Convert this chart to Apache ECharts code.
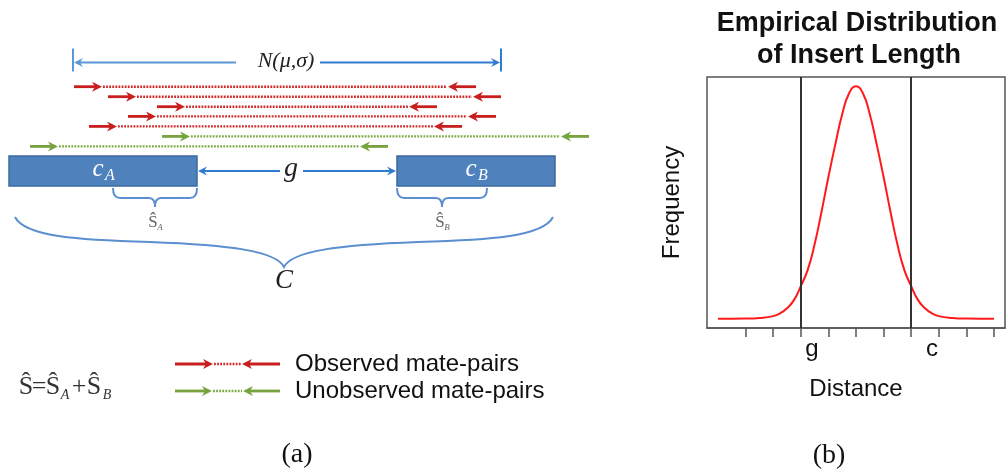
<!DOCTYPE html>
<html><head><meta charset="utf-8">
<script src="https://cdn.jsdelivr.net/npm/echarts@6/dist/echarts.min.js"></script>
<style>html,body{margin:0;padding:0;background:#fff}#c{width:1006px;height:474px}</style>
</head><body><div id="c"></div>
<script>
// ---------- Panel (a): schematic (diagram coordinates along the scaffold) ----------
const observedPairs   = [[74, 476, 86.7], [108, 501, 96.7], [157, 437, 106.7], [128, 496, 116.4], [89, 462, 126.4]];
const unobservedPairs = [[162, 589, 136.4], [30, 388, 146.4]];
const contigs   = [[9, 197, 171, 'A'], [397, 555, 171, 'B']];
const spans     = [[73, 501, 62.5], [197, 397, 171]];   // N(mu,sigma) insert span, gap g
const braces    = [[113, 197, 'A'], [397, 487, 'B'], [15, 553, 'C']];
const legendPairs = [[175, 280, 364, 'Observed mate-pairs'], [175, 280, 391, 'Unobserved mate-pairs']];

// ---------- Panel (b): empirical distribution ----------
const distX    = [0,0.5,1,1.5,2,2.25,2.5,2.75,3,3.25,3.5,3.75,4,4.25,4.5,4.75,5,5.25,5.5,5.75,6,6.25,6.5,6.75,7,7.25,7.5,7.75,8,8.5,9,9.5,10];
const distFreq = [0,0,0.0004,0.003,0.011,0.023,0.045,0.08,0.14,0.21,0.32,0.46,0.61,0.75,0.88,0.97,1.0,0.97,0.88,0.75,0.61,0.46,0.32,0.21,0.14,0.08,0.045,0.023,0.011,0.003,0.0004,0,0];
const cutoffs  = [3, 7];
const tickValues = [1,2,3,4,5,6,7,8,9,10];
const tickLabelValues = [3.4, 7.75];
const tickLabelText = ['g', 'c'];

const RED = '#c81e1e', RED_DOT = '#d22626', GREEN = '#76a33e', GREEN_DOT = '#7aa843';
const BLUE = '#2f7bd0', BLUE_L = '#5b97d3', BOX = '#4f81bd', BOX_S = '#3c6aa0', BRACE = '#5b8fd0';
const SERIF = '"Liberation Serif","Times New Roman",serif';
const SANS = '"Liberation Sans",Arial,sans-serif';

function head(tip, dir, y, color, len, hw) {
  const bx = tip - dir * len;
  return {type: 'polygon', shape: {points: [[tip, y], [bx, y - hw], [tip - dir * (len - 3), y], [bx, y + hw]]}, style: {fill: color}};
}
function txt(x, y, text, font, color, align) {
  return {type: 'text', x: x, y: y, style: {text: text, font: font, fill: color || '#222', align: align || 'center', verticalAlign: 'middle'}};
}

function pairRenderer(color, dotColor, aLen) {
  return function (params, api) {
    const p1 = api.coord([api.value(0), api.value(2)]);
    const x2 = api.coord([api.value(1), api.value(2)])[0];
    const x1 = p1[0], y = p1[1];
    const t1 = x1 + aLen, t2 = x2 - aLen;
    return {type: 'group', children: [
      {type: 'line', shape: {x1: x1, y1: y, x2: t1 - 5, y2: y}, style: {stroke: color, lineWidth: 2.8}},
      head(t1, 1, y, color, 10, 5),
      {type: 'line', shape: {x1: t1 + 1, y1: y, x2: t2 - 1, y2: y}, style: {stroke: dotColor, lineWidth: 2.4, lineDash: [1.8, 1.3]}},
      head(t2, -1, y, color, 10, 5),
      {type: 'line', shape: {x1: t2 + 5, y1: y, x2: x2, y2: y}, style: {stroke: color, lineWidth: 2.8}}
    ]};
  };
}

function contigRenderer(params, api) {
  const a = api.coord([api.value(0), api.value(2)]);
  const b = api.coord([api.value(1), api.value(2)]);
  const h = api.size([0, 30])[1];
  const cx = (a[0] + b[0]) / 2, y = a[1];
  const name = contigs[params.dataIndex][3];
  return {type: 'group', children: [
    {type: 'rect', shape: {x: a[0], y: y - h / 2, width: b[0] - a[0], height: h}, style: {fill: BOX, stroke: BOX_S, lineWidth: 1.5}},
    txt(cx - 5, y - 2, 'c', 'italic 25px ' + SERIF, '#fff'),
    txt(cx + 7, y + 5, name, 'italic 16px ' + SERIF, '#fff')
  ]};
}

function spanRenderer(params, api) {
  const a = api.coord([api.value(0), api.value(2)]);
  const b = api.coord([api.value(1), api.value(2)]);
  const y = a[1];
  if (params.dataIndex === 0) {
    const m = (a[0] + b[0]) / 2 - 1;
    return {type: 'group', children: [
      {type: 'line', shape: {x1: a[0], y1: y - 14, x2: a[0], y2: y + 9}, style: {stroke: BLUE_L, lineWidth: 2}},
      {type: 'line', shape: {x1: b[0], y1: y - 14, x2: b[0], y2: y + 9}, style: {stroke: BLUE, lineWidth: 2}},
      {type: 'line', shape: {x1: a[0] + 5, y1: y, x2: m - 50, y2: y}, style: {stroke: BLUE_L, lineWidth: 2}},
      head(a[0] + 1, -1, y, BLUE_L, 9, 4.5),
      {type: 'line', shape: {x1: m + 34, y1: y, x2: b[0] - 5, y2: y}, style: {stroke: BLUE, lineWidth: 2}},
      head(b[0] - 1, 1, y, BLUE, 9, 4.5),
      txt(m, y - 1, 'N(μ,σ)', 'italic 22px ' + SERIF, '#222')
    ]};
  }
  const m = (a[0] + b[0]) / 2 - 6;
  return {type: 'group', children: [
    {type: 'line', shape: {x1: a[0] + 5, y1: y, x2: m - 11, y2: y}, style: {stroke: BLUE, lineWidth: 2}},
    head(a[0] + 1, -1, y, BLUE, 9, 4.5),
    {type: 'line', shape: {x1: m + 12, y1: y, x2: b[0] - 5, y2: y}, style: {stroke: BLUE, lineWidth: 2}},
    head(b[0] - 1, 1, y, BLUE, 9, 4.5),
    txt(m, y - 2, 'g', 'italic 28px ' + SERIF, '#222')
  ]};
}

function braceRenderer(params, api) {
  const i = params.dataIndex;
  const P = (x, y) => api.coord([x, y]);
  const x1 = api.value(0), x2 = api.value(1), m = (x1 + x2) / 2;
  const pt = (x, y) => { const p = P(x, y); return p[0].toFixed(1) + ' ' + p[1].toFixed(1); };
  if (i < 2) {
    const d = 'M' + pt(x1, 188) + ' Q' + pt(x1, 198) + ' ' + pt(x1 + 7, 198) + ' L' + pt(m - 6, 198) +
      ' Q' + pt(m, 198) + ' ' + pt(m, 207) + ' Q' + pt(m, 198) + ' ' + pt(m + 6, 198) +
      ' L' + pt(x2 - 7, 198) + ' Q' + pt(x2, 198) + ' ' + pt(x2, 188);
    const c = P(m, 223);
    return {type: 'group', children: [
      {type: 'path', shape: {pathData: d}, style: {stroke: BRACE, lineWidth: 2, fill: null}},
      txt(c[0] - 2, c[1], 'Ŝ', '17px ' + SERIF, '#666'),
      txt(c[0] + 5, c[1] + 5, braces[i][2], 'italic 9px ' + SERIF, '#666')
    ]};
  }
  const d = 'M' + pt(x1, 217) + ' C' + pt(x1 + 10, 237) + ' ' + pt(x1 + 65, 240) + ' ' + pt(x1 + 135, 242) +
    ' C' + pt(m - 54, 245) + ' ' + pt(m - 8, 251) + ' ' + pt(m, 267) +
    ' C' + pt(m + 8, 251) + ' ' + pt(m + 54, 245) + ' ' + pt(x2 - 135, 242) +
    ' C' + pt(x2 - 65, 240) + ' ' + pt(x2 - 10, 237) + ' ' + pt(x2, 217);
  const c = P(m, 281);
  return {type: 'group', children: [
    {type: 'path', shape: {pathData: d}, style: {stroke: BRACE, lineWidth: 2, fill: null}},
    txt(c[0], c[1], 'C', 'italic 27px ' + SERIF, '#222')
  ]};
}

function formulaRenderer(params, api) {
  const p = api.coord([api.value(0), api.value(1)]);
  const x = p[0], y = p[1], f = '26px ' + SERIF, s = 'italic 14px ' + SERIF, col = '#333';
  return {type: 'group', children: [
    txt(x + 7, y, 'Ŝ', f, col), txt(x + 20, y, '=', f, col), txt(x + 34, y, 'Ŝ', f, col),
    txt(x + 46, y + 8, 'A', s, col), txt(x + 60, y, '+', f, col), txt(x + 75, y, 'Ŝ', f, col),
    txt(x + 88, y + 8, 'B', s, col)
  ]};
}

const common = {type: 'custom', coordinateSystem: 'cartesian2d', xAxisIndex: 0, yAxisIndex: 0, clip: false, silent: true, animation: false};

const option = {
  animation: false,
  backgroundColor: '#fff',
  grid: [
    {left: 0, top: 0, width: 600, height: 474, show: false},
    {left: 707, top: 77, width: 298, height: 251, show: true, borderColor: '#555', borderWidth: 1.5, backgroundColor: 'transparent'}
  ],
  xAxis: [
    {gridIndex: 0, type: 'value', min: 0, max: 600, show: false},
    {gridIndex: 1, type: 'value', min: -0.4, max: 10.4,
      axisLine: {show: true, onZero: false, lineStyle: {color: '#555', width: 1.5}},
      axisTick: {show: true, customValues: tickValues, length: 9, lineStyle: {color: '#555', width: 1.5}},
      axisLabel: {show: true, customValues: tickLabelValues, margin: 9, fontSize: 24, color: '#111', fontFamily: SANS,
        formatter: v => tickLabelText[tickLabelValues.indexOf(v)] || ''},
      splitLine: {show: false},
      name: 'Distance', nameLocation: 'middle', nameGap: 49, nameTextStyle: {fontSize: 24, color: '#111', fontFamily: SANS}}
  ],
  yAxis: [
    {gridIndex: 0, type: 'value', min: 0, max: 474, inverse: true, show: false},
    {gridIndex: 1, type: 'value', min: -0.04, max: 1.04,
      axisLine: {show: false}, axisTick: {show: false}, axisLabel: {show: false}, splitLine: {show: false},
      name: 'Frequency', nameLocation: 'middle', nameGap: 23, nameRotate: 90, nameTextStyle: {fontSize: 24, color: '#111', fontFamily: SANS}}
  ],
  graphic: [
    {type: 'text', x: 857, y: 24, style: {text: 'Empirical Distribution', font: 'bold 27px ' + SANS, fill: '#111', align: 'center', verticalAlign: 'middle'}},
    {type: 'text', x: 859, y: 56, style: {text: 'of Insert Length', font: 'bold 27px ' + SANS, fill: '#111', align: 'center', verticalAlign: 'middle'}},
    {type: 'text', x: 297, y: 455, style: {text: '(a)', font: '28px ' + SERIF, fill: '#111', align: 'center', verticalAlign: 'middle'}},
    {type: 'text', x: 829, y: 456, style: {text: '(b)', font: '28px ' + SERIF, fill: '#111', align: 'center', verticalAlign: 'middle'}},
    {type: 'text', x: 295, y: 364, style: {text: legendPairs[0][3], font: '24px ' + SANS, fill: '#111', align: 'left', verticalAlign: 'middle'}},
    {type: 'text', x: 295, y: 391, style: {text: legendPairs[1][3], font: '24px ' + SANS, fill: '#111', align: 'left', verticalAlign: 'middle'}}
  ],
  series: [
    Object.assign({name: 'Observed mate-pairs', data: observedPairs, renderItem: pairRenderer(RED, RED_DOT, 28)}, common),
    Object.assign({name: 'Unobserved mate-pairs', data: unobservedPairs, renderItem: pairRenderer(GREEN, GREEN_DOT, 28)}, common),
    Object.assign({name: 'contigs', data: contigs.map(c => [c[0], c[1], c[2]]), renderItem: contigRenderer}, common),
    Object.assign({name: 'spans', data: spans, renderItem: spanRenderer}, common),
    Object.assign({name: 'braces', data: braces.map(b => [b[0], b[1]]), renderItem: braceRenderer}, common),
    Object.assign({name: 'legendObserved', data: [legendPairs[0].slice(0, 3)], renderItem: pairRenderer(RED, RED_DOT, 38)}, common),
    Object.assign({name: 'legendUnobserved', data: [legendPairs[1].slice(0, 3)], renderItem: pairRenderer(GREEN, GREEN_DOT, 37)}, common),
    Object.assign({name: 'formula', data: [[19, 387]], renderItem: formulaRenderer}, common),
    {
      name: 'Insert length', type: 'line', xAxisIndex: 1, yAxisIndex: 1,
      data: distX.map((x, i) => [x, distFreq[i]]),
      smooth: 0.5, showSymbol: false, silent: true,
      lineStyle: {color: '#ff1a1a', width: 2},
      markLine: {silent: true, symbol: 'none', label: {show: false},
        lineStyle: {color: '#333', width: 2, type: 'solid'},
        data: cutoffs.map(v => ({xAxis: v}))}
    }
  ]
};
const chart = echarts.init(document.getElementById('c'));
chart.setOption(option);
</script>
</body></html>
